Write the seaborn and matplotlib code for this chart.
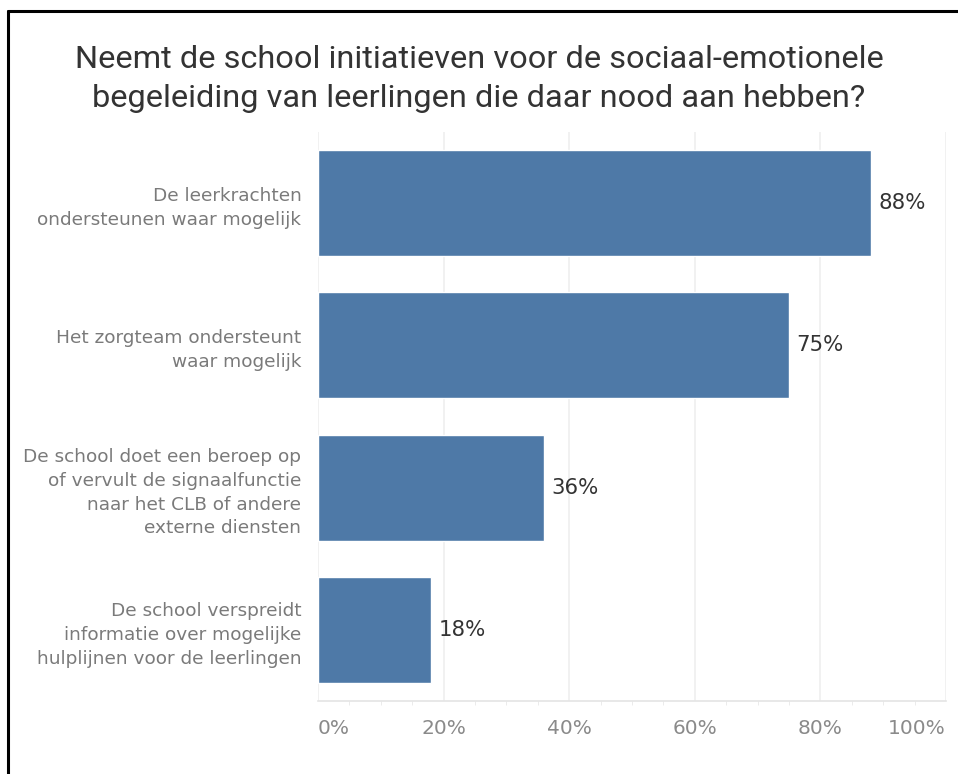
import matplotlib
matplotlib.use("Agg")
import matplotlib.pyplot as plt
from matplotlib.lines import Line2D
from matplotlib.ticker import MultipleLocator, FuncFormatter
import pandas as pd
import seaborn as sns

# ─── Data ────────────────────────────────────────────────────
categories = [
    "De leerkrachten\nondersteunen waar mogelijk",
    "Het zorgteam ondersteunt\nwaar mogelijk",
    "De school doet een beroep op\nof vervult de signaalfunctie\nnaar het CLB of andere\nexterne diensten",
    "De school verspreidt\ninformatie over mogelijke\nhulplijnen voor de leerlingen",
]
values = [88, 75, 36, 18]
x_ticks = [0, 20, 40, 60, 80, 100]

title = ("Neemt de school initiatieven voor de sociaal-emotionele\n"
         "begeleiding van leerlingen die daar nood aan hebben?")

BAR_COLOR = "#4e79a7"

sns.set_style("white")
plt.rcParams["font.family"] = ["DejaVu Sans"]

df = pd.DataFrame({"categorie": categories, "pct": values})

fig = plt.figure(figsize=(9.58, 7.74), dpi=100)
ax = fig.add_axes([0.332, 0.0943, 0.6555, 0.7352])

sns.barplot(data=df, x="pct", y="categorie", orient="h",
            color=BAR_COLOR, saturation=1, width=0.745, ax=ax)

ax.set_xlim(0, 100)
ax.set_ylim(3.5, -0.5)
ax.set_xlabel("")
ax.set_ylabel("")

# gridlines
ax.xaxis.set_major_locator(MultipleLocator(20))
ax.xaxis.set_minor_locator(MultipleLocator(5))
ax.grid(axis="x", which="major", color="#efefef", linewidth=1.2, zorder=0)
ax.set_axisbelow(True)
for s in ["top", "right", "left"]:
    ax.spines[s].set_visible(False)
ax.spines["bottom"].set_color("#e4e4e4")
ax.spines["bottom"].set_linewidth(1.2)

ax.tick_params(axis="x", which="major", length=7, color="#efefef",
               labelsize=14.5, labelcolor="#8a8a8a", pad=6)
ax.tick_params(axis="x", which="minor", length=3, color="#e8e8e8", bottom=True)
ax.tick_params(axis="y", length=0, labelsize=13.3, labelcolor="#7a7a7a", pad=12)
ax.xaxis.set_major_formatter(FuncFormatter(lambda v, p: f"{int(v)}%"))

ax.set_xticks(x_ticks)
labels = ax.get_xticklabels()
labels[0].set_horizontalalignment("left")
labels[-1].set_horizontalalignment("right")

for lab in ax.get_yticklabels():
    lab.set_linespacing(1.42)

# value labels
for i, v in enumerate(values):
    ax.text(v + 1.2, i, f"{v}%", va="center", ha="left",
            fontsize=15.3, color="#333333")

fig.text(0.5, 0.898, title, ha="center", va="center", fontsize=23.4,
         color="#333333", linespacing=1.45,
         family=["Roboto", "DejaVu Sans"])

# frame (left and top edge only)
fig.add_artist(Line2D([8 / 958, 8 / 958], [0, 1 - 11 / 774],
                      transform=fig.transFigure, color="black", linewidth=2.2))
fig.add_artist(Line2D([8 / 958, 1], [1 - 11 / 774, 1 - 11 / 774],
                      transform=fig.transFigure, color="black", linewidth=2.2))

fig.savefig("out.png", dpi=100)
